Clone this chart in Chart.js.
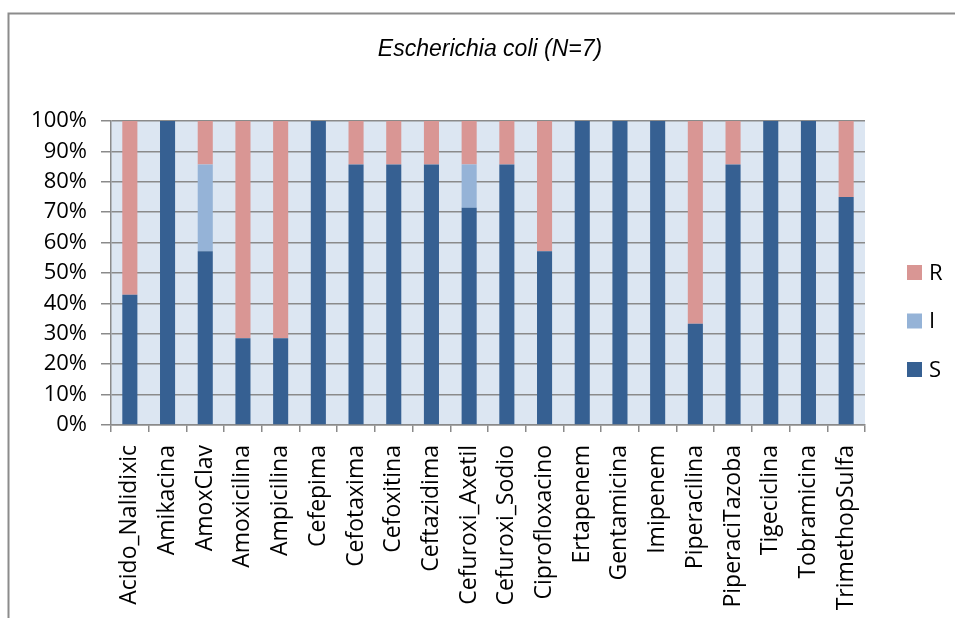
<!DOCTYPE html>
<html>
<head>
<meta charset="utf-8">
<title>Escherichia coli (N=7)</title>
<script src="https://cdn.jsdelivr.net/npm/chart.js@4.4.1/dist/chart.umd.min.js"></script>
<style>
  html, body { margin: 0; padding: 0; background: #fff; }
  #wrap { width: 955px; height: 618px; position: relative; }
</style>
</head>
<body>
<div id="wrap"><canvas id="chart" width="955" height="618"></canvas></div>
<script>
// 📋 DATA
const titleText = "Escherichia coli (N=7)";

const labels = [
  "Acido_Nalidixic", "Amikacina", "AmoxClav", "Amoxicilina", "Ampicilina",
  "Cefepima", "Cefotaxima", "Cefoxitina", "Ceftazidima", "Cefuroxi_Axetil",
  "Cefuroxi_Sodio", "Ciprofloxacino", "Ertapenem", "Gentamicina", "Imipenem",
  "Piperacilina", "PiperaciTazoba", "Tigeciclina", "Tobramicina", "TrimethopSulfa"
];

// percentages (S / I / R)
const sValues = [42.86, 100, 57.14, 28.57, 28.57, 100, 85.71, 85.71, 85.71, 71.43,
                 85.71, 57.14, 100, 100, 100, 33.33, 85.71, 100, 100, 75];
const iValues = [0, 0, 28.57, 0, 0, 0, 0, 0, 0, 14.29,
                 0, 0, 0, 0, 0, 0, 0, 0, 0, 0];
const rValues = [57.14, 0, 14.29, 71.43, 71.43, 0, 14.29, 14.29, 14.29, 14.29,
                 14.29, 42.86, 0, 0, 0, 66.67, 14.29, 0, 0, 25];

const yTicks = [0, 10, 20, 30, 40, 50, 60, 70, 80, 90, 100];

// 🎨 STYLE
const colS = "#366092";
const colI = "#95B3D7";
const colR = "#D99694";
const plotBg = "#DCE6F2";
const gridCol = "#8a8a8a";
const labelFont = "'Open Sans', 'Noto Sans', sans-serif";

// 🖼 frame, plot background, title and legend
const decor = {
  id: "decor",
  beforeDraw(chart) {
    const { ctx, chartArea: a } = chart;
    ctx.save();
    ctx.fillStyle = "#fff";
    ctx.fillRect(0, 0, chart.width, chart.height);
    ctx.fillStyle = plotBg;
    ctx.fillRect(a.left, a.top, a.right - a.left, a.bottom - a.top);
    // outer frame (top + left only, rest is cropped)
    ctx.strokeStyle = "#8c8c8c";
    ctx.lineWidth = 2;
    ctx.beginPath();
    ctx.moveTo(8.5, chart.height);
    ctx.lineTo(8.5, 13.5);
    ctx.lineTo(chart.width, 13.5);
    ctx.stroke();
    ctx.restore();
  },
  afterDraw(chart) {
    const { ctx } = chart;
    ctx.save();
    ctx.fillStyle = "#000";
    ctx.font = "italic 23px 'Liberation Sans', Arial, sans-serif";
    ctx.textAlign = "center";
    ctx.textBaseline = "middle";
    ctx.fillText(titleText, 490, 50);

    // legend in reverse order: R, I, S
    const items = chart.data.datasets.slice().reverse();
    ctx.font = "22px " + labelFont;
    ctx.textAlign = "left";
    items.forEach((ds, k) => {
      const cy = 272.5 + k * 48.5;
      ctx.fillStyle = ds.backgroundColor;
      ctx.fillRect(907, cy - 7.5, 15, 15);
      ctx.fillStyle = "#000";
      ctx.fillText(ds.label, 929, cy + 1);
    });
    ctx.restore();
  }
};

// 📊 CHART
new Chart(document.getElementById("chart"), {
  type: "bar",
  data: {
    labels: labels,
    datasets: [
      { label: "S", data: sValues, backgroundColor: colS },
      { label: "I", data: iValues, backgroundColor: colI },
      { label: "R", data: rValues, backgroundColor: colR }
    ]
  },
  options: {
    responsive: false,
    animation: false,
    devicePixelRatio: 1,
    layout: { padding: { top: 121, right: 90, left: 0, bottom: 0 } },
    datasets: { bar: { barPercentage: 0.4, categoryPercentage: 1 } },
    plugins: {
      legend: { display: false },
      title: { display: false },
      tooltip: { enabled: false }
    },
    scales: {
      x: {
        stacked: true,
        afterFit: s => { s.height = 193; },
        grid: { drawOnChartArea: false, drawTicks: true, tickLength: 7, color: gridCol, lineWidth: 1.5 },
        border: { color: gridCol, width: 1.5 },
        ticks: {
          minRotation: 90, maxRotation: 90, autoSkip: false, padding: 13,
          color: "#000", font: { family: labelFont, size: 23 }
        }
      },
      y: {
        stacked: true,
        min: 0, max: 100,
        afterFit: s => { s.width = 111; },
        afterBuildTicks: s => { s.ticks = yTicks.map(v => ({ value: v })); },
        grid: { color: gridCol, lineWidth: 1.5, tickLength: 10 },
        border: { color: gridCol, width: 1.5 },
        ticks: {
          padding: 14, color: "#000",
          font: { family: labelFont, size: 22 },
          callback: v => v + "%"
        }
      }
    }
  },
  plugins: [decor]
});
</script>
</body>
</html>
